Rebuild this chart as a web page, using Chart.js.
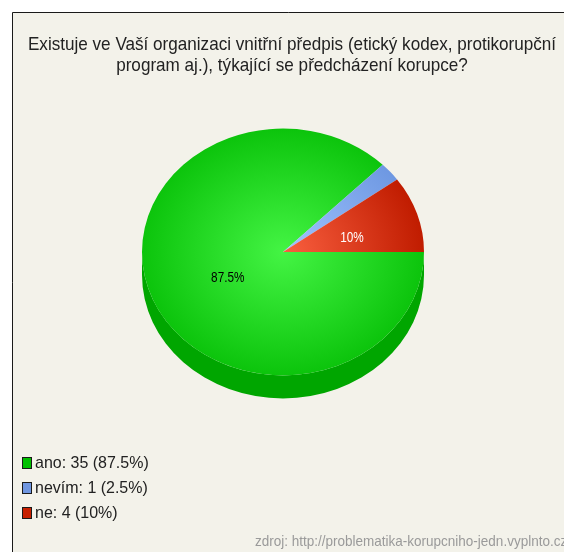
<!DOCTYPE html>
<html>
<head>
<meta charset="utf-8">
<script src="https://cdn.jsdelivr.net/npm/chart.js@4/dist/chart.umd.min.js"></script>
<style>
  html, body { margin: 0; padding: 0; background: #fff; }
  canvas { display: block; }
</style>
</head>
<body>
<canvas id="Mychart" width="564" height="552"></canvas>
<script>
// data
const labels = ['ano', 'nevím', 'ne'];
const counts = [35, 1, 4];
const percents = ['87.5%', '2.5%', '10%'];
const sliceLabels = ['87.5%', '', '10%'];
const titleLines = ['Existuje ve Vaší organizaci vnitřní předpis (etický kodex, protikorupční',
                    'program aj.), týkající se předcházení korupce?'];
const source = 'zdroj: http://problematika-korupcniho-jedn.vyplnto.cz';

// colours
const lightColors = ['#44f444', '#a0c4ff', '#fa6040'];
const edgeColors  = ['#0cc40c', '#6e98e2', '#c01c00'];
const sideColors  = ['#00a600', '#5579c0', '#9c1800'];
const boxColors   = ['#00c000', '#6f96e0', '#c82000'];
const labelColors = ['#000000', '#ffffff', '#ffffff'];

const squash = 0.875;   // vertical flattening of the pie top
const depth = 23;       // thickness of the pie side, px
const FONT = "'Liberation Sans', Arial, sans-serif";

const canvas = document.getElementById('Mychart');

// the original uses a condensed face, so squeeze the text horizontally
function narrowText(ctx, text, x, y, k) {
    const w = ctx.measureText(text).width;
    ctx.fillText(text, x, y, w * k);
}

function gradientFill(c) {
    const i = c.dataIndex;
    const chart = c.chart;
    const area = chart.chartArea;
    if (!area || i === undefined) return edgeColors[i || 0];
    const cx = (area.left + area.right) / 2;
    const cy = (area.top + area.bottom) / 2;
    const r = Math.min(area.right - area.left, area.bottom - area.top) / 2;
    const g = chart.ctx.createRadialGradient(cx, cy, 0, cx, cy, r);
    g.addColorStop(0, lightColors[i]);
    g.addColorStop(1, edgeColors[i]);
    return g;
}

// frame, title, legend and source line
const decor = {
    id: 'decor',
    beforeDraw(chart) {
        const ctx = chart.ctx;
        ctx.save();
        ctx.fillStyle = '#ffffff';
        ctx.fillRect(0, 0, chart.width, chart.height);
        ctx.fillStyle = '#f3f2ea';
        ctx.fillRect(12, 12, chart.width, chart.height);
        ctx.strokeStyle = '#1a1a1a';
        ctx.lineWidth = 1;
        ctx.beginPath();
        ctx.moveTo(12.5, chart.height);
        ctx.lineTo(12.5, 12.5);
        ctx.lineTo(chart.width, 12.5);
        ctx.stroke();
        ctx.restore();
    },
    afterDraw(chart) {
        const ctx = chart.ctx;
        ctx.save();
        ctx.fillStyle = '#222';
        ctx.textAlign = 'center';
        ctx.textBaseline = 'alphabetic';
        ctx.font = '19px ' + FONT;
        titleLines.forEach((t, i) => narrowText(ctx, t, 292, 50 + i * 21, 0.9));

        // legend
        ctx.font = '17px ' + FONT;
        ctx.textAlign = 'left';
        labels.forEach((lab, i) => {
            const y = 463 + i * 25;
            ctx.fillStyle = boxColors[i];
            ctx.fillRect(22, y - 6, 9, 11);
            ctx.strokeStyle = '#1a1a1a';
            ctx.strokeRect(22.5, y - 5.5, 9, 11);
            ctx.fillStyle = '#222';
            ctx.textBaseline = 'middle';
            narrowText(ctx, lab + ': ' + counts[i] + ' (' + percents[i] + ')', 35, y, 0.94);
        });

        ctx.font = '15px ' + FONT;
        ctx.fillStyle = '#9a9a9a';
        ctx.textAlign = 'left';
        narrowText(ctx, source, 255, 542, 0.9);
        ctx.restore();
    }
};

// flattened pie with a side wall and labels on the slices
const pie3d = {
    id: 'pie3d',
    beforeDatasetsDraw(chart) {
        const ctx = chart.ctx;
        const arcs = chart.getDatasetMeta(0).data;
        const cx = arcs[0].x, cy = arcs[0].y;
        ctx.save();
        ctx.translate(cx, cy);
        ctx.scale(1, squash);
        ctx.translate(-cx, -cy);
        const d = depth / squash;
        arcs.forEach((arc, i) => {
            const r = arc.outerRadius;
            [[0, Math.PI], [2 * Math.PI, 3 * Math.PI]].forEach(([lo, hi]) => {
                const s = Math.max(arc.startAngle, lo);
                const e = Math.min(arc.endAngle, hi);
                if (e <= s) return;
                ctx.beginPath();
                ctx.arc(cx, cy, r, s, e);
                ctx.lineTo(cx + r * Math.cos(e), cy + d + r * Math.sin(e));
                ctx.arc(cx, cy + d, r, e, s, true);
                ctx.closePath();
                ctx.fillStyle = sideColors[i];
                ctx.fill();
            });
        });
    },
    afterDatasetsDraw(chart) {
        const ctx = chart.ctx;
        ctx.restore();
        const arcs = chart.getDatasetMeta(0).data;
        ctx.save();
        ctx.font = '14px ' + FONT;
        ctx.textAlign = 'center';
        ctx.textBaseline = 'middle';
        arcs.forEach((arc, i) => {
            if (!sliceLabels[i]) return;
            const mid = (arc.startAngle + arc.endAngle) / 2;
            const rr = arc.outerRadius * 0.47;
            ctx.fillStyle = labelColors[i];
            narrowText(ctx, sliceLabels[i], arc.x + rr * Math.cos(mid) + 6,
                       arc.y + rr * Math.sin(mid) * squash + 4, 0.84);
        });
        ctx.restore();
    }
};

new Chart(canvas, {
    type: 'pie',
    data: {
        labels: labels,
        datasets: [{
            data: counts,
            backgroundColor: gradientFill,
            borderWidth: 0,
            hoverOffset: 0
        }]
    },
    options: {
        responsive: false,
        animation: false,
        rotation: 90,
        layout: { padding: { top: 111, bottom: 159, left: 12, right: 10 } },
        plugins: {
            legend: { display: false },
            title: { display: false },
            tooltip: { enabled: false }
        }
    },
    plugins: [decor, pie3d]
});
</script>
</body>
</html>
